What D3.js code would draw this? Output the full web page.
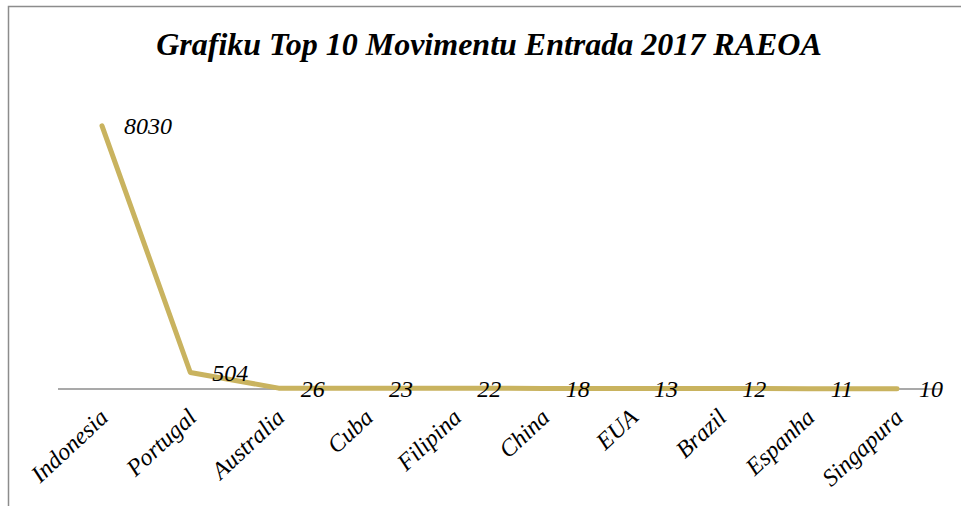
<!DOCTYPE html>
<html>
<head>
<meta charset="utf-8">
<script src="https://cdn.jsdelivr.net/npm/d3@7"></script>
<style>
body { margin: 0; background: #fff; }
svg { display: block; }
text { font-family: "Times New Roman", "Liberation Serif", "DejaVu Serif", serif; font-style: italic; }
</style>
</head>
<body>
<svg id="chart" width="961" height="506"></svg>
<script>

var categories = [ "Indonesia", "Portugal", "Australia", "Cuba", "Filipina",
		"China", "EUA", "Brazil", "Espanha", "Singapura" ];
var values = [ 8030, 504, 26, 23, 22, 18, 13, 12, 11, 10 ];
var chartTitle = "Grafiku Top 10 Movimentu Entrada 2017 RAEOA";

var lineColor = "#c9b35f";

var svg = d3.select("#chart");

// outer frame (partly cut off on right and bottom)
svg.append("rect") //
.attr("x", 8.5) //
.attr("y", 6.5) //
.attr("width", 980) //
.attr("height", 520) //
.attr("fill", "none") //
.attr("stroke", "#8c8c8c") //
.attr("stroke-width", 1.5);

svg.append("text") //
.attr("x", 489) //
.attr("y", 55) //
.attr("text-anchor", "middle") //
.style("font-weight", "bold") //
.style("font-size", "32px") //
.text(chartTitle);

var x = d3.scalePoint().domain(categories).range([ 102, 897 ]);
var y = d3.scaleLinear().domain([ 0, 9000 ]).range([ 389, 94 ]);

// baseline axis
svg.append("line") //
.attr("x1", 58) //
.attr("x2", 941) //
.attr("y1", y(0)) //
.attr("y2", y(0)) //
.attr("stroke", "#8c8c8c") //
.attr("stroke-width", 1.5);

var line = d3.line().x(function(d, i) {
	return x(categories[i]);
}).y(function(d) {
	return y(d);
});

svg.append("path") //
.datum(values) //
.attr("d", line) //
.attr("fill", "none") //
.attr("stroke", lineColor) //
.attr("stroke-width", 5) //
.attr("stroke-linecap", "round") //
.attr("stroke-linejoin", "round");

// value labels
svg.append("g").selectAll("text").data(values).enter().append("text") //
.attr("x", function(d, i) {
	return x(categories[i]) + 22;
}) //
.attr("y", function(d) {
	return y(d);
}) //
.attr("dy", "0.35em") //
.style("font-size", "24px") //
.text(function(d) {
	return d;
});

// rotated category labels
svg.append("g").selectAll("text").data(categories).enter().append("text") //
.attr("transform", function(d) {
	return "translate(" + (x(d) - 4) + ",407) rotate(-43)";
}) //
.attr("text-anchor", "end") //
.attr("dy", "0.7em") //
.style("font-size", "24px") //
.text(function(d) {
	return d;
});

</script>
</body>
</html>
